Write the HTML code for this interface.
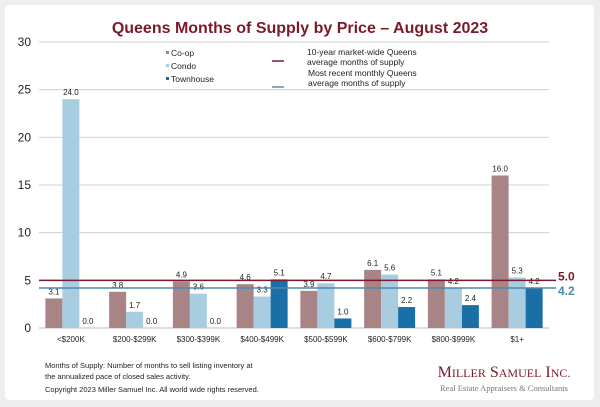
<!DOCTYPE html>
<html><head><meta charset="utf-8"><style>
body{margin:0;background:#eeeeee;font-family:"Liberation Sans",sans-serif}
#panel{position:absolute;left:5px;top:5px;width:589px;height:395px;background:#fff;border-radius:4px}
</style></head><body>
<div id="panel"></div>
<svg id="c" width="600" height="407" style="position:absolute;left:0;top:0">
<text x="300" y="33" text-anchor="middle" font-size="16" font-weight="bold" fill="#7a1a2a">Queens Months of Supply by Price – August 2023</text>
<g font-size="8.5" fill="#222">
<rect x="166" y="51" width="3" height="3" fill="#a98486"/><text x="171" y="56">Co-op</text>
<rect x="166" y="64" width="3" height="3" fill="#a8cde0"/><text x="171" y="69">Condo</text>
<rect x="166" y="77" width="3" height="3" fill="#1a6fa6"/><text x="171" y="82">Townhouse</text>
<line x1="272" y1="61" x2="284" y2="61" stroke="#7a1a2a" stroke-width="1.5"/>
<text x="307" y="55">10-year market-wide Queens</text><text x="307" y="65">average months of supply</text>
<line x1="272" y1="87" x2="284" y2="87" stroke="#5a8fb0" stroke-width="1.5"/>
<text x="308" y="76">Most recent monthly Queens</text><text x="308" y="86">average months of supply</text>
</g>
<g id="plot"></g>
<g font-size="7.5" fill="#222">
<text x="45" y="368">Months of Supply: Number of months to sell listing inventory at</text>
<text x="45" y="379">the annualized pace of closed sales activity.</text>
<text x="45" y="392">Copyright 2023 Miller Samuel Inc.  All world wide rights reserved.</text>
</g>
<text x="504" y="377" text-anchor="middle" font-family="Liberation Serif,serif" font-size="16" fill="#7a1a2a">M<tspan font-size="12">ILLER</tspan> S<tspan font-size="12">AMUEL</tspan> I<tspan font-size="12">NC.</tspan></text>
<text x="504" y="391" text-anchor="middle" font-family="Liberation Serif,serif" font-size="8.5" fill="#777">Real Estate Appraisers &amp; Consultants</text>
</svg>
<script>
const categories=["<$200K","$200-$299K","$300-$399K","$400-$499K","$500-$599K","$600-$799K","$800-$999K","$1+"];
const coop=[3.1,3.8,4.9,4.6,3.9,6.1,5.1,16.0];
const condo=[24.0,1.7,3.6,3.3,4.7,5.6,4.2,5.3];
const townhouse=[0.0,0.0,0.0,5.1,1.0,2.2,2.4,4.2];
const yTicks=[0,5,10,15,20,25,30];
const avg10=5.0, recent=4.2;
const NS="http://www.w3.org/2000/svg";
const g=document.getElementById('plot');
const x0=39,x1=549,y0=328,yTop=42,yMax=30;
const y=v=>y0-(v/yMax)*(y0-yTop);
const step=(x1-x0)/categories.length,bw=17;
function el(t,a){const e=document.createElementNS(NS,t);for(const k in a)e.setAttribute(k,a[k]);g.appendChild(e);return e;}
yTicks.forEach(t=>{
 const l=el('line',{x1:x0,x2:x1,y1:y(t),y2:y(t),stroke:t===0?'#bbb':'#d0d0d0','stroke-width':1});
 
 
 const tx=el('text',{x:x0-8,y:y(t)+4,'text-anchor':'end','font-size':12,fill:'#222'});
 tx.textContent=t;
 
 
});
const series=[[coop,'#a98486','coop'],[condo,'#a8cde0','condo'],[townhouse,'#1a6fa6','townhouse']];
categories.forEach((c,i)=>{
 const cx=x0+step*(i+0.5);
 series.forEach(([d,col,nm],j)=>{
  const bx=cx-1.5*bw+j*bw, v=d[i];
  const r=el('rect',{x:bx,y:y(v),width:bw,height:y0-y(v),fill:col});
  
  
  const t=el('text',{x:bx+bw/2,y:y(v)-4,'text-anchor':'middle','font-size':8,fill:'#222'});
  t.textContent=v.toFixed(1);
  
  
 });
 const lt=el('text',{x:cx,y:y0+14,'text-anchor':'middle','font-size':8,fill:'#222'});
 lt.textContent=c;
 
 
});
[[avg10,'#7a1a2a','ten-year-average-line'],[recent,'#4d88ad','recent-average-line']].forEach(([v,col,nm])=>{
 const l=el('line',{x1:x0,x2:556,y1:y(v),y2:y(v),stroke:col,'stroke-width':1.5});
 
 
 const t=el('text',{x:558,y:y(v)+(v===avg10?0:7),'font-size':12,'font-weight':'bold',fill:col});
 t.textContent=v.toFixed(1);
 
 
});
</script>
</body></html>
